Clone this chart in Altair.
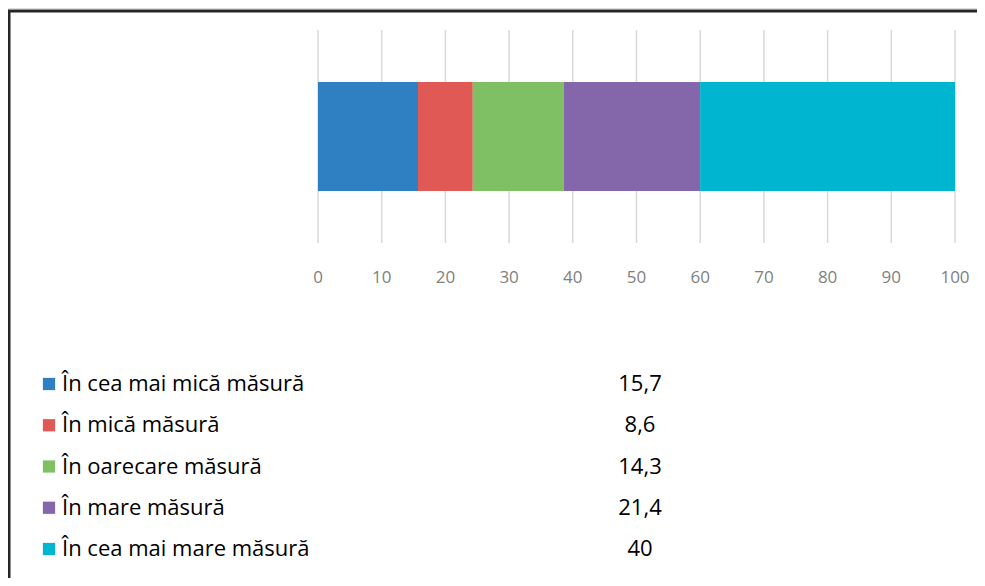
import altair as alt
import pandas as pd

categories = ["În cea mai mică măsură", "În mică măsură", "În oarecare măsură",
              "În mare măsură", "În cea mai mare măsură"]
values = [15.7, 8.6, 14.3, 21.4, 40]
value_labels = ["15,7", "8,6", "14,3", "21,4", "40"]
colors = ["#2E80C2", "#E15955", "#80C064", "#8467AB", "#00B5CF"]
ticks = [0, 10, 20, 30, 40, 50, 60, 70, 80, 90, 100]

W, H = 969, 570
FONT = "Open Sans"

df = pd.DataFrame({"cat": categories, "value": values, "label": value_labels,
                   "order": list(range(len(categories))), "group": "g"})
tick_df = pd.DataFrame({"tick": ticks})

xscale = alt.Scale(domain=[0, 100], range=[310, 947], nice=False, zero=True)
cscale = alt.Scale(domain=categories, range=colors)

frame_top = alt.Chart(pd.DataFrame({"a": [0]})).mark_rule(color="#262626", strokeWidth=3).encode(
    x=alt.value(0), x2=alt.value(W), y=alt.value(3))
frame_left = alt.Chart(pd.DataFrame({"a": [0]})).mark_rule(color="#262626", strokeWidth=3).encode(
    x=alt.value(1), y=alt.value(2), y2=alt.value(H))

grid = alt.Chart(tick_df).mark_rule(color="#d9d9d9", strokeWidth=1.5).encode(
    x=alt.X("tick:Q", scale=xscale, axis=None),
    y=alt.value(22), y2=alt.value(235))

bar = alt.Chart(df).mark_bar(stroke=None).encode(
    x=alt.X("value:Q", stack="zero", scale=xscale, axis=None),
    y=alt.Y("group:N", scale=alt.Scale(range=[74, 183], paddingInner=0, paddingOuter=0), axis=None),
    color=alt.Color("cat:N", scale=cscale, legend=None),
    order=alt.Order("order:Q"))

tick_labels = alt.Chart(tick_df).mark_text(font=FONT, fontSize=17, color="#7f7f7f", baseline="middle").encode(
    x=alt.X("tick:Q", scale=xscale, axis=None),
    y=alt.value(270),
    text=alt.Text("tick:Q"))

rowscale = alt.Scale(domain=categories, range=[376, 541], padding=0)

squares = alt.Chart(df).mark_square(size=150, opacity=1).encode(
    x=alt.value(41),
    y=alt.Y("cat:N", scale=rowscale, axis=None),
    color=alt.Color("cat:N", scale=cscale, legend=None))

names = alt.Chart(df).mark_text(font=FONT, fontSize=22, color="#000000", align="left", baseline="middle").encode(
    x=alt.value(54),
    y=alt.Y("cat:N", scale=rowscale, axis=None),
    text="cat:N")

nums = alt.Chart(df).mark_text(font=FONT, fontSize=22, color="#000000", align="center", baseline="middle").encode(
    x=alt.value(632),
    y=alt.Y("cat:N", scale=rowscale, axis=None),
    text="label:N")

chart = alt.layer(frame_top, frame_left, grid, bar, tick_labels, squares, names, nums).resolve_scale(
    y="independent").properties(
    width=W, height=H, padding=0, autosize=alt.AutoSizeParams(type="none")
).configure_view(stroke=None).configure(background="white")

chart.save("out.html", embed_options={"renderer": "svg", "actions": False})
